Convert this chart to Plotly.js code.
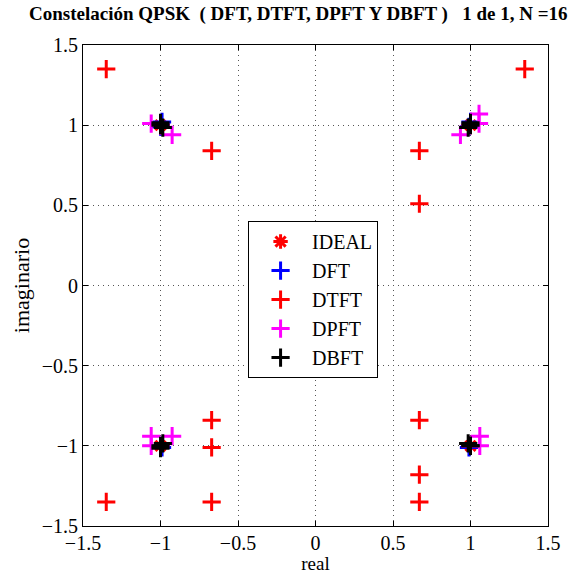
<!DOCTYPE html>
<html>
<head>
<meta charset="utf-8">
<script src="https://cdn.plot.ly/plotly-3.0.1.min.js"></script>
<style>html,body{margin:0;padding:0;background:#fff;}</style>
</head>
<body>
<div id="chart" style="width:578px;height:574px;"></div>
<script>
// Data
const idealRe = [-1, 1, -1, 1];
const idealIm = [1, 1, -1, -1];

const dftRe = [-0.99, -1.0, 1.0, 0.99, -1.0, -0.99, 1.0, 0.99];
const dftIm = [1.02, 0.99, 1.02, 0.99, -1.0, -1.01, -1.0, -1.01];

const dtftRe = [-1.35, -0.67, -1.0, -1.0, 1.35, 0.67, 0.67, 1.0, -1.35, -0.67, -0.67, -0.67, 0.67, 0.67, 0.67, 1.0];
const dtftIm = [1.35, 0.84, 1.0, 1.0, 1.35, 0.84, 0.51, 1.0, -1.35, -0.84, -1.01, -1.35, -0.84, -1.18, -1.35, -1.0];

const dpftRe = [-1.06, -0.925, -1.0, -1.0, 1.055, 1.055, 0.935, 1.0, -1.06, -0.925, -1.06, -1.0, 1.06, 1.06, 1.0, 1.0];
const dpftIm = [1.01, 0.94, 1.0, 1.0, 1.07, 1.01, 0.94, 1.0, -0.94, -0.94, -1.0, -1.0, -0.94, -1.0, -1.0, -1.0];

const dbftRe = [-1.0, -0.985, -1.0, 1.0, 0.985, 1.0, -1.0, -0.985, -1.0, 1.0, 0.985, 1.0];
const dbftIm = [1.0, 0.985, 1.015, 1.0, 0.985, 1.015, -1.0, -0.985, -1.015, -1.0, -0.985, -1.0];

const tickVals = [-1.5, -1, -0.5, 0, 0.5, 1, 1.5];

const serif = 'Liberation Serif';

function crossTrace(name, xs, ys, color) {
  return {
    type: 'scatter', mode: 'markers', name: name, x: xs, y: ys,
    marker: {symbol: 'cross-thin-open', size: 13, color: color, line: {color: color, width: 3}},
    cliponaxis: false
  };
}

const traces = [
  {type: 'scatter', mode: 'markers', name: 'IDEAL', x: idealRe, y: idealIm,
   marker: {symbol: 'asterisk-open', size: 12, color: '#ff0000', line: {color: '#ff0000', width: 3}}},
  crossTrace('DFT', dftRe, dftIm, '#0000ff'),
  crossTrace('DTFT', dtftRe, dtftIm, '#ff0000'),
  crossTrace('DPFT', dpftRe, dpftIm, '#ff00ff'),
  crossTrace('DBFT', dbftRe, dbftIm, '#000000')
];

const axisCommon = {
  range: [-1.5, 1.5], tickvals: tickVals, ticks: 'inside', ticklen: 5, tickcolor: '#000',
  showline: true, linecolor: '#000', linewidth: 1, mirror: 'ticks',
  showgrid: true, gridcolor: '#555', griddash: '1px,4px', gridwidth: 1,
  zeroline: false, tickfont: {family: serif, size: 20, color: '#000'}
};

const layout = {
  width: 578, height: 574,
  margin: {l: 83, r: 30, t: 45, b: 48},
  paper_bgcolor: '#fff', plot_bgcolor: '#fff',
  font: {family: serif, color: '#000'},
  title: {text: '<b>Constelación QPSK  ( DFT, DTFT, DPFT Y DBFT )   1 de 1, N =16</b>',
          font: {family: serif, size: 19, color: '#000'},
          x: 0.516, xanchor: 'center', y: 0.988, yanchor: 'top'},
  xaxis: Object.assign({}, axisCommon, {ticklabelstandoff: -1,
          title: {text: 'real', font: {family: serif, size: 19}, standoff: 4}}),
  yaxis: Object.assign({}, axisCommon, {title: {text: 'imaginario', font: {family: serif, size: 22}, standoff: 6}}),
  showlegend: true,
  legend: {x: 0.355, y: 0.634, xanchor: 'left', yanchor: 'top', bgcolor: '#fff',
           bordercolor: '#000', borderwidth: 1, font: {family: serif, size: 20, color: '#000'},
           itemwidth: 53, tracegroupgap: 0}
};

Plotly.newPlot('chart', traces, layout, {displayModeBar: false, staticPlot: true});
</script>
</body>
</html>
